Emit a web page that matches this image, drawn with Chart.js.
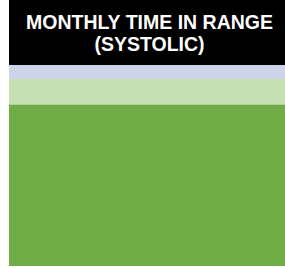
<!DOCTYPE html>
<html>
<head>
<meta charset="utf-8">
<script src="https://cdn.jsdelivr.net/npm/chart.js@4"></script>
<style>
  html, body { margin: 0; padding: 0; background: #fff; overflow: hidden; }
  #header {
    position: absolute; left: 9px; top: 0; width: 281px; height: 65px;
    background: #000; color: #fff;
    font-family: "Liberation Sans", Arial, sans-serif; font-weight: bold;
    font-size: 19.5px; line-height: 21.5px; text-align: center;
    padding-top: 12px; box-sizing: border-box;
  }
  #wrap { position: absolute; left: 9px; top: 65px; width: 276px; height: 201px; }
</style>
</head>
<body>
<div id="header">MONTHLY TIME IN RANGE<br>(SYSTOLIC)</div>
<div id="wrap"><canvas id="chart" width="276" height="201"></canvas></div>
<script>
// percent of readings in each range (stacked bottom to top)
const months = ["Month"];
const inRange = [80];
const elevated = [13];
const low = [7];

const ctx = document.getElementById("chart").getContext("2d");
new Chart(ctx, {
  type: "bar",
  data: {
    labels: months,
    datasets: [
      { label: "In range", data: inRange, backgroundColor: "#70AD47" },
      { label: "Elevated", data: elevated, backgroundColor: "#C5E0B4" },
      { label: "Low", data: low, backgroundColor: "#CDD4EA" }
    ]
  },
  options: {
    responsive: false,
    devicePixelRatio: 1,
    animation: false,
    layout: { padding: 0 },
    datasets: { bar: { barPercentage: 1, categoryPercentage: 1, borderWidth: 0 } },
    plugins: { legend: { display: false }, tooltip: { enabled: false } },
    scales: {
      x: { stacked: true, display: false },
      y: { stacked: true, display: false, min: 0, max: 100 }
    }
  }
});
</script>
</body>
</html>
